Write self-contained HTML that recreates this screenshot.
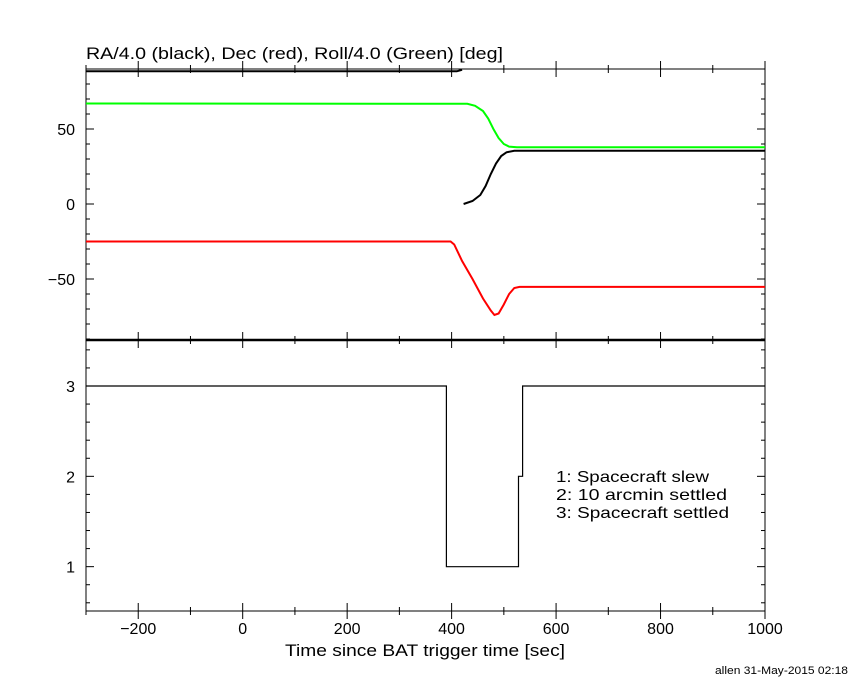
<!DOCTYPE html>
<html><head><meta charset="utf-8"><style>
html,body{margin:0;padding:0;background:#fff}
svg text{font-family:"Liberation Sans",sans-serif;fill:#000}
</style></head><body>
<svg id="c" width="850" height="680" xmlns="http://www.w3.org/2000/svg">
<text x="86" y="59" font-size="17" textLength="417" lengthAdjust="spacingAndGlyphs">RA/4.0 (black), Dec (red), Roll/4.0 (Green) [deg]</text>
<text x="285" y="656" font-size="17" textLength="280" lengthAdjust="spacingAndGlyphs">Time since BAT trigger time [sec]</text>
<text x="715" y="674" font-size="11" textLength="133" lengthAdjust="spacingAndGlyphs">allen 31-May-2015 02:18</text>
<text x="556" y="482" font-size="16" textLength="153" lengthAdjust="spacingAndGlyphs">1: Spacecraft slew</text>
<text x="556" y="500" font-size="16" textLength="171" lengthAdjust="spacingAndGlyphs">2: 10 arcmin settled</text>
<text x="556" y="518" font-size="16" textLength="173" lengthAdjust="spacingAndGlyphs">3: Spacecraft settled</text>
</svg>
<script>
const xTicks=[-200,0,200,400,600,800,1000];
const yTicksTop=[-50,0,50];
const yTicksBot=[1,2,3];
const raT=[-300,410,420];
const raV=[88.5,88.5,89.5];
const ra2T=[423,440,455,465,475,485,495,505,520,1000];
const ra2V=[0,2,6,12,20,27,32,34.5,35.5,35.5];
const decT=[-300,398,405,420,440,460,475,482,490,500,510,520,530,1000];
const decV=[-25,-25,-27,-38,-50,-63,-71,-74,-73,-67,-60,-56,-55.3,-55.3];
const rollT=[-300,430,445,460,470,480,490,500,510,525,1000];
const rollV=[67,66.8,65.5,62,57,50,44,40,38.3,37.8,37.8];
const stT=[-300,390,390,528,528,536,536,1000];
const stV=[3,3,1,1,2,2,3,3];
const X0=86,X1=765,T0=-300,T1=1000;
const sx=t=>X0+(t-T0)*(X1-X0)/(T1-T0);
const syTop=v=>204-v*1.5;
const syBot=v=>386-(v-3)*90.33;
const svg=document.getElementById('c');
const NS='http://www.w3.org/2000/svg';
function mk(tag,a){const e=document.createElementNS(NS,tag);for(const k in a)e.setAttribute(k,a[k]);svg.appendChild(e);return e;}
function line(x1,y1,x2,y2,w){return mk('line',{x1,y1,x2,y2,stroke:'#000','stroke-width':w||1});}
let f1=mk('rect',{x:X0,y:69,width:X1-X0,height:271,fill:'none',stroke:'#000','stroke-width':1});


let f2=mk('rect',{x:X0,y:340,width:X1-X0,height:271,fill:'none',stroke:'#000','stroke-width':1});


line(X0,340,X1,340,2.5);
for(let t=-300;t<=1000;t+=100){
 const x=sx(t),maj=(t%200===0),L=maj?8:4;
 [69,340,611].forEach(y=>{line(x,y,x,y+L);line(x,y,x,y-L);});
}
xTicks.forEach(t=>{const e=mk('text',{x:sx(t),y:634,'font-size':16,'text-anchor':'middle'});e.textContent=(t<0?'\u2212'+(-t):t);

});
for(let v=-90;v<=90;v+=10){const y=syTop(v);if(y<69||y>340)continue;const L=(v%50===0)?8:4;line(X0,y,X0+L,y);line(X1,y,X1-L,y);}
yTicksTop.forEach(v=>{const e=mk('text',{x:75,y:syTop(v)+6,'font-size':16,'text-anchor':'end'});e.textContent=(v<0?'\u2212'+(-v):v);

});
for(let i=3;i<=17;i++){const v=i*0.2;const y=syBot(v);if(y<340||y>611)continue;const L=(Math.abs(v-Math.round(v))<1e-6)?8:4;line(X0,y,X0+L,y);line(X1,y,X1-L,y);}
yTicksBot.forEach(v=>{const e=mk('text',{x:75,y:syBot(v)+6,'font-size':16,'text-anchor':'end'});e.textContent=v;

});
function series(T,V,sy,col,name,w){const p=T.map((t,i)=>sx(t).toFixed(1)+','+sy(V[i]).toFixed(1)).join(' ');
 const e=mk('polyline',{points:p,fill:'none',stroke:col,'stroke-width':w});
 
 }
series(raT,raV,syTop,'#000','ra-line-pre',2);
series(ra2T,ra2V,syTop,'#000','ra-line-post',2);
series(decT,decV,syTop,'#f00','dec-line',2);
series(rollT,rollV,syTop,'#0f0','roll-line',2);
series(stT,stV,syBot,'#000','settle-status-line',1.2);
</script>
</body></html>
